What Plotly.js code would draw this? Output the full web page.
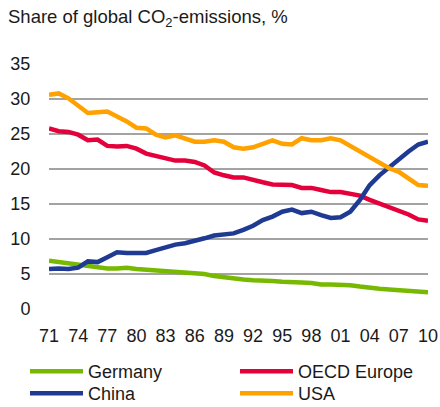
<!DOCTYPE html>
<html>
<head>
<meta charset="utf-8">
<script src="https://cdn.plot.ly/plotly-3.0.1.min.js"></script>
<style>
html,body{margin:0;padding:0;background:#fff;}
#chart{width:440px;height:407px;}
</style>
</head>
<body>
<div id="chart"></div>
<script>
const years = [];
for (let y = 1971; y <= 2010; y++) years.push(y);

const germany = [6.9,6.7,6.5,6.4,6.2,6.0,5.8,5.8,5.9,5.7,5.6,5.5,5.4,5.4,5.3,5.2,5.0,4.7,4.5,4.3,4.2,4.1,4.1,4.0,3.9,3.9,3.8,3.7,3.5,3.5,3.5,3.4,3.2,3.0,2.9,2.8,2.7,2.6,2.5,2.4];
const oecdEurope = [25.8,25.4,25.3,24.9,24.1,24.2,23.3,23.2,23.3,22.9,22.2,21.9,21.6,21.2,21.2,21.0,20.5,19.5,19.1,18.8,18.8,18.4,18.1,17.8,17.7,17.7,17.3,17.3,17.0,16.7,16.7,16.5,16.2,15.6,15.1,14.6,14.0,13.5,12.8,12.6];
const china = [5.7,5.8,5.7,5.9,6.8,6.7,7.4,8.1,8.0,8.0,8.0,8.4,8.8,9.2,9.4,9.7,10.1,10.5,10.7,10.8,11.3,11.9,12.7,13.2,13.9,14.2,13.7,13.9,13.4,13.0,13.1,13.9,15.6,17.7,19.1,20.3,21.3,22.5,23.5,23.9];
const usa = [30.6,30.8,30.1,29.1,28.0,28.1,28.2,27.5,26.8,25.9,25.8,24.9,24.5,24.8,24.4,23.9,23.9,24.1,23.9,23.1,22.9,23.1,23.6,24.1,23.6,23.5,24.4,24.1,24.1,24.4,24.1,23.3,22.5,21.8,21.0,20.1,19.6,18.7,17.7,17.6];

const xTickVals = [1971,1974,1977,1980,1983,1986,1989,1992,1995,1998,2001,2004,2007,2010];
const xTickText = ['71','74','77','80','83','86','89','92','95','98','01','04','07','10'];
const yTickVals = [0,5,10,15,20,25,30,35];

const seriesNames = ['Germany','OECD Europe','China','USA'];
const seriesData = [germany, oecdEurope, china, usa];
const seriesColors = ['#77b900','#e4003a','#1f3a93','#ffa200'];
const seriesLegend = ['legend','legend2','legend3','legend4'];

const traces = seriesNames.map((n, i) => ({
  type: 'scatter', mode: 'lines', name: n,
  x: years, y: seriesData[i], legend: seriesLegend[i],
  line: {color: seriesColors[i], width: 4.5}
}));

const font = {family: 'Liberation Sans, Arial, sans-serif', size: 18, color: '#1a1a1a'};

function legendAt(left, top) {
  return {orientation: 'h', x: left/440, xref: 'container', xanchor: 'left',
          y: 1 - top/407, yref: 'container', yanchor: 'top', itemwidth: 53,
          font: font, bgcolor: 'rgba(0,0,0,0)'};
}

const layout = {
  width: 440, height: 407,
  margin: {l: 49, r: 12, t: 64, b: 98, autoexpand: false},
  paper_bgcolor: '#fff', plot_bgcolor: '#fff',
  font: font,
  title: {text: 'Share of global CO<sub>2</sub>-emissions, %', x: 8/440, xanchor: 'left', xref: 'container',
          y: 1 - 17/407, yanchor: 'middle', yref: 'container',
          font: {family: font.family, size: 18.5, color: '#1a1a1a'}},
  xaxis: {range: [1971, 2010], tickvals: xTickVals, ticktext: xTickText, showgrid: false,
          zeroline: false, showline: false, ticks: 'outside', ticklen: 10, tickcolor: 'rgba(0,0,0,0)',
          tickfont: font, fixedrange: true},
  yaxis: {range: [0, 35], tickvals: yTickVals, showgrid: true, gridcolor: '#a3a3a3', gridwidth: 1.3,
          zeroline: false, showline: false, ticks: 'outside', ticklen: 14, tickcolor: 'rgba(0,0,0,0)',
          tickfont: font, fixedrange: true},
  showlegend: true,
  legend: legendAt(25, 353),
  legend2: legendAt(235, 353),
  legend3: legendAt(25, 375),
  legend4: legendAt(235, 375)
};

Plotly.newPlot('chart', traces, layout, {displayModeBar: false, staticPlot: true});
</script>
</body>
</html>
